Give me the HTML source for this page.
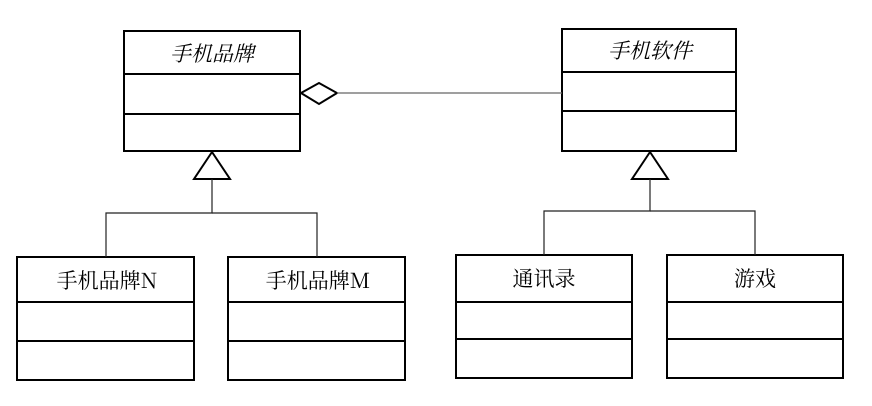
<!DOCTYPE html>
<html><head><meta charset="utf-8"><style>
html,body{margin:0;padding:0;background:#fff;}
svg{display:block;}
text{font-family:"Noto Serif CJK SC","Liberation Serif","Noto Sans CJK SC",serif;font-size:21px;fill:#000;}
</style></head><body>
<svg width="872" height="406" viewBox="0 0 872 406" xmlns="http://www.w3.org/2000/svg">
<g fill="none" stroke="#000" stroke-width="2">
  <rect x="124" y="31" width="176" height="120"/>
  <line x1="124" y1="74" x2="300" y2="74"/>
  <line x1="124" y1="114" x2="300" y2="114"/>
  <rect x="562" y="29" width="174" height="122"/>
  <line x1="562" y1="72" x2="736" y2="72"/>
  <line x1="562" y1="111" x2="736" y2="111"/>
  <rect x="17" y="257" width="177" height="123"/>
  <line x1="17" y1="302" x2="194" y2="302"/>
  <line x1="17" y1="341" x2="194" y2="341"/>
  <rect x="228" y="257" width="177" height="123"/>
  <line x1="228" y1="302" x2="405" y2="302"/>
  <line x1="228" y1="341" x2="405" y2="341"/>
  <rect x="456" y="255" width="176" height="123"/>
  <line x1="456" y1="302" x2="632" y2="302"/>
  <line x1="456" y1="339" x2="632" y2="339"/>
  <rect x="667" y="255" width="176" height="123"/>
  <line x1="667" y1="302" x2="843" y2="302"/>
  <line x1="667" y1="339" x2="843" y2="339"/>
  <polygon points="212,152 194,179 230,179" fill="#fff"/>
  <polygon points="650,152 632,179 668,179" fill="#fff"/>
  <polygon points="301,93 319,83 337,93 319,104" fill="#fff"/>
</g>
<g fill="none" stroke="#222" stroke-width="1.2">
  <polyline points="212,179 212,213 106,213 106,257"/>
  <polyline points="212,213 317,213 317,257"/>
  <polyline points="650,179 650,211 544,211 544,255"/>
  <polyline points="650,211 755,211 755,255"/>
</g>
<line x1="337" y1="93" x2="562" y2="93" stroke="#666" stroke-width="1.2"/>
<text x="212" y="61" text-anchor="middle" font-style="italic">手机品牌</text>
<text x="650" y="58" text-anchor="middle" font-style="italic">手机软件</text>
<text x="107" y="288" text-anchor="middle">手机品牌N</text>
<text x="318" y="288" text-anchor="middle">手机品牌M</text>
<text x="544" y="286" text-anchor="middle">通讯录</text>
<text x="755" y="286" text-anchor="middle">游戏</text>
</svg>
</body></html>
